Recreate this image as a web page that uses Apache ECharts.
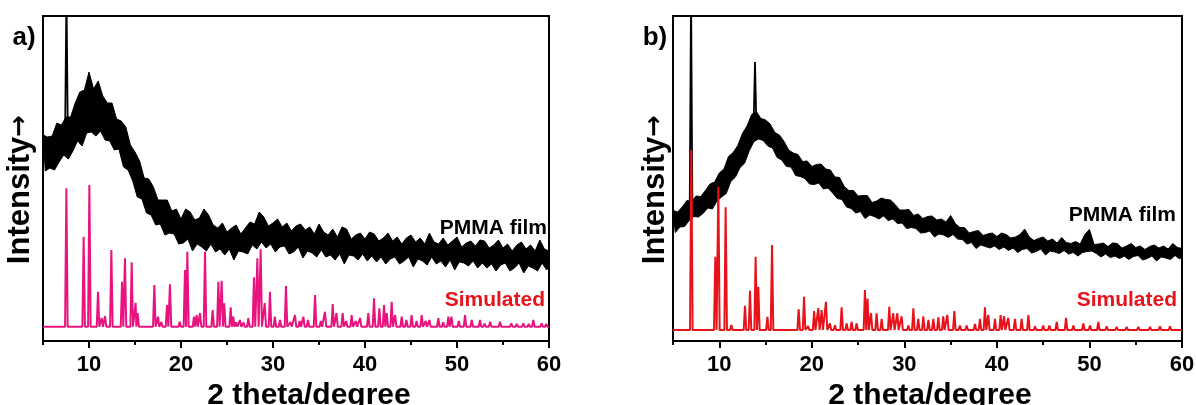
<!DOCTYPE html>
<html>
<head>
<meta charset="utf-8">
<script src="https://cdn.jsdelivr.net/npm/echarts@6/dist/echarts.min.js"></script>
<style>
  html, body { margin: 0; padding: 0; background: #fff; }
  #chart { width: 1196px; height: 405px; }
</style>
</head>
<body>
<div id="chart"></div>
<script>
// 2-theta axis
const angleMin = 5;
const angleMax = 60;
const majorTicks = [10, 20, 30, 40, 50, 60];
const minorTicks = [5, 15, 25, 35, 45, 55];

// PMMA film scans: upper / lower edge of the noisy trace, sampled every 0.5 degree from 5 to 60
const filmStep = 0.5;
const filmTopA = [
  82.4, 81.6, 82.0, 87.2, 86.4, 89.6, 89.6, 95.2, 99.6, 100.4,
  107.6, 100.8, 104.0, 98.0, 95.2, 95.2, 88.8, 88.0, 85.6, 78.4,
  75.6, 72.0, 65.2, 64.8, 61.6, 56.4, 56.4, 56.4, 52.0, 52.8,
  48.8, 52.8, 51.6, 48.4, 49.2, 52.8, 50.4, 46.4, 45.2, 47.2,
  43.6, 45.2, 46.4, 42.8, 45.2, 47.6, 46.8, 51.6, 49.6, 46.0,
  47.2, 48.8, 45.6, 47.2, 44.0, 46.0, 46.8, 44.4, 45.6, 42.8,
  46.8, 43.6, 42.4, 44.8, 41.6, 45.6, 44.8, 40.8, 42.4, 43.2,
  40.8, 43.6, 42.8, 40.0, 41.2, 43.2, 40.0, 41.6, 38.8, 41.2,
  42.4, 39.6, 41.2, 38.8, 43.2, 39.6, 38.8, 41.2, 38.4, 40.0,
  41.6, 37.6, 39.2, 40.0, 38.0, 40.4, 40.0, 37.2, 38.4, 40.4,
  37.2, 38.8, 36.0, 38.4, 39.6, 36.8, 38.4, 36.0, 40.4, 36.8,
  36.0
];
const filmLowA = [
  68.0, 69.2, 68.4, 71.6, 74.4, 72.8, 76.0, 80.0, 78.0, 83.2,
  83.6, 82.0, 84.0, 80.4, 80.0, 76.4, 76.8, 69.6, 68.4, 64.0,
  57.6, 56.8, 51.2, 50.4, 46.4, 46.8, 42.4, 43.2, 42.8, 38.8,
  39.2, 40.8, 36.0, 38.8, 37.6, 36.0, 38.8, 35.6, 36.8, 34.4,
  36.8, 32.4, 36.0, 35.6, 34.8, 38.4, 36.8, 39.6, 37.2, 38.8,
  35.6, 37.6, 38.0, 34.8, 35.6, 37.6, 33.2, 36.0, 35.2, 33.6,
  36.4, 33.6, 34.4, 32.4, 34.8, 30.8, 34.4, 34.0, 32.4, 34.8,
  32.0, 34.0, 31.6, 33.6, 30.8, 32.8, 33.6, 30.8, 32.0, 33.6,
  29.6, 32.8, 32.0, 30.4, 33.6, 30.8, 32.0, 29.6, 32.4, 28.4,
  31.6, 31.2, 30.0, 32.0, 29.2, 31.2, 29.2, 30.8, 28.0, 30.4,
  31.2, 28.0, 29.2, 31.2, 27.2, 30.0, 29.2, 28.0, 31.2, 28.4,
  29.6
];
// sharp reflections standing out of the film scan: [2 theta, height, foot level]
const filmSpikesA = [[7.55, 140, 86.0]];

const filmTopB = [
  52.2, 51.6, 53.6, 56.2, 55.8, 58.0, 57.8, 60.2, 62.8, 63.6,
  67.2, 68.8, 73.8, 75.4, 78.2, 83.0, 86.0, 90.6, 91.8, 89.0,
  88.4, 86.8, 83.4, 82.4, 79.8, 76.4, 75.2, 74.6, 71.8, 72.0,
  69.8, 70.6, 70.8, 68.8, 68.4, 65.6, 65.4, 61.8, 60.2, 60.2,
  58.0, 58.2, 58.2, 55.4, 56.0, 57.2, 56.6, 56.4, 54.6, 52.4,
  52.4, 52.6, 50.2, 50.8, 49.0, 49.8, 50.0, 48.4, 48.8, 47.6,
  50.2, 47.0, 45.4, 45.4, 43.2, 43.8, 44.2, 42.2, 42.8, 43.2,
  41.8, 43.2, 42.6, 41.2, 41.6, 42.6, 44.8, 41.6, 40.2, 41.0,
  41.6, 40.0, 40.8, 39.2, 41.4, 39.4, 39.0, 39.8, 38.8, 42.6,
  44.6, 38.6, 38.8, 39.2, 37.8, 39.2, 39.0, 37.2, 38.0, 39.0,
  37.4, 38.0, 36.6, 37.8, 38.4, 37.2, 38.0, 36.8, 39.0, 37.4,
  37.0
];
const filmLowB = [
  43.4, 45.6, 45.8, 48.2, 49.8, 49.6, 51.0, 53.2, 52.8, 56.0,
  57.6, 59.0, 63.8, 65.6, 69.4, 71.2, 76.2, 79.8, 80.8, 80.2,
  78.0, 77.2, 73.4, 72.4, 69.8, 69.6, 66.2, 65.8, 65.0, 62.8,
  62.6, 63.2, 60.8, 61.2, 59.2, 57.0, 56.6, 53.6, 53.0, 51.2,
  51.8, 49.0, 50.4, 49.8, 48.8, 50.0, 48.2, 48.8, 47.0, 47.2,
  45.0, 45.4, 45.0, 43.2, 43.4, 44.0, 41.6, 42.8, 42.4, 41.4,
  42.6, 40.8, 40.6, 38.8, 39.4, 37.0, 38.4, 37.8, 37.2, 38.0,
  36.6, 37.6, 36.2, 37.2, 35.4, 36.6, 37.0, 35.2, 35.8, 36.8,
  34.4, 36.0, 35.6, 35.0, 36.2, 34.8, 35.4, 34.0, 35.4, 35.8,
  36.0, 35.0, 33.6, 34.8, 33.4, 34.0, 33.0, 34.0, 32.6, 33.8,
  34.2, 32.4, 33.0, 34.0, 32.0, 33.6, 33.2, 32.6, 34.2, 32.8,
  33.8
];
const filmSpikesB = [[6.95, 140, 55.0], [13.86, 111.6, 88.0]];

// Simulated patterns: reflection positions (2 theta) and peak heights, plus background level
const simBaseA = 5.7;
const simPeaksA = [
  [7.54, 61.1], [9.42, 41.7], [10.04, 62.4], [10.98, 19.7], [11.38, 9.2], [11.74, 10.0],
  [12.43, 36.4], [13.59, 23.7], [13.91, 33.1], [14.64, 31.5], [15.07, 15.3], [15.29, 11.2],
  [17.1, 22.4], [17.5, 9.7], [17.86, 7.6], [18.48, 14.4], [18.8, 22.7], [19.86, 7.7],
  [20.43, 28.4], [20.69, 35.7], [21.41, 9.7], [21.7, 10.4], [22.07, 11.2], [22.61, 35.7],
  [23.44, 12.4], [24.06, 23.7], [24.42, 24.1], [24.7, 15.1], [25.4, 13.5], [25.68, 9.7],
  [26.0, 7.5], [26.41, 8.4], [26.8, 7.4], [27.32, 9.1], [27.93, 25.5], [28.3, 33.1],
  [28.66, 36.7], [29.1, 15.2], [29.67, 19.7], [30.2, 9.7], [30.76, 8.4], [31.41, 22.0],
  [31.9, 7.6], [32.39, 10.4], [32.9, 8.0], [33.3, 9.7], [33.8, 8.4], [34.57, 18.4],
  [35.2, 8.0], [35.65, 11.7], [36.49, 14.8], [36.9, 11.2], [37.57, 11.2], [37.95, 8.0],
  [38.55, 10.4], [39.0, 8.0], [39.46, 9.2], [40.36, 11.2], [40.98, 17.1], [41.56, 13.1],
  [42.07, 14.4], [42.36, 11.2], [42.9, 15.7], [43.27, 10.4], [43.99, 9.7], [44.5, 8.4],
  [45.07, 10.4], [45.6, 8.0], [46.16, 10.4], [46.6, 8.0], [47.0, 8.4], [47.97, 9.1],
  [48.5, 7.5], [49.06, 9.7], [49.4, 9.7], [50.2, 8.0], [50.87, 10.4], [51.6, 8.4],
  [52.5, 8.4], [53.0, 7.0], [53.6, 7.7], [54.67, 7.7], [55.9, 7.1], [56.5, 6.8],
  [57.2, 7.1], [57.8, 6.8], [58.3, 8.4], [59.2, 7.1], [59.7, 6.8]
];
const simBaseB = 4.4;
const simPeaksB = [
  [6.98, 76.4], [9.57, 33.7], [9.9, 61.7], [10.69, 53.5], [11.3, 6.4], [12.78, 14.1],
  [13.32, 20.1], [13.93, 33.7], [14.22, 21.7], [15.2, 9.7], [15.7, 38.4], [17.97, 5.2],
  [18.58, 12.7], [19.16, 17.7], [19.6, 6.0], [20.25, 12.0], [20.7, 13.1], [21.06, 12.4],
  [21.53, 15.7], [21.96, 7.0], [22.5, 6.3], [23.22, 13.5], [23.76, 7.0], [24.3, 7.6],
  [24.84, 7.0], [25.74, 20.4], [26.02, 17.0], [26.4, 11.1], [27.0, 11.1], [27.55, 8.9],
  [28.37, 13.7], [28.8, 11.1], [29.24, 11.1], [29.7, 9.9], [30.43, 6.2], [30.97, 13.1],
  [31.5, 8.9], [32.05, 9.9], [32.6, 8.4], [33.13, 8.9], [33.67, 9.5], [34.2, 9.9],
  [34.64, 10.4], [35.4, 12.0], [36.0, 6.2], [36.73, 6.2], [37.63, 6.8], [38.17, 8.9],
  [38.71, 13.5], [39.07, 10.4], [39.79, 8.9], [40.4, 10.4], [40.77, 9.9], [41.23, 9.3],
  [41.95, 8.9], [42.67, 8.9], [43.4, 10.4], [44.12, 5.9], [45.0, 6.2], [45.67, 6.2],
  [46.46, 7.6], [47.47, 9.3], [48.26, 6.2], [49.34, 7.0], [50.06, 6.2], [50.96, 7.6],
  [51.86, 5.9], [52.94, 5.7], [54.02, 5.7], [55.28, 5.7], [56.54, 5.7], [57.62, 5.9],
  [58.7, 5.9]
];

const seriesNames = ['PMMA film', 'Simulated'];
const panelTags = ['a)', 'b)'];
const xTitle = '2 theta/degree';
const yTitleWord = 'Intensity';
const yTitleArrow = '\u2192';

const FONT = '"Liberation Sans", Arial, sans-serif';
const BLACK = '#000000';
const PINK = '#E8137F';
const RED = '#E8121A';

// narrow peaks: each reflection rises from its own foot level
function spikeTrace(spikes, halfWidth) {
  const pts = [];
  spikes.forEach(([x, h, foot]) => {
    pts.push([x - halfWidth, foot], [x, h], [x + halfWidth, foot], null);
  });
  return pts;
}

// stick pattern: each reflection drawn as a narrow peak on the background level
const peakFoot = 0.14;
function simTrace(peaks, base) {
  const pts = [[angleMin, base], [angleMax, base]];
  peaks.forEach(([x, h]) => {
    pts.push([x - peakFoot, base], [x, h], [x + peakFoot, base]);
  });
  return pts.sort((p, q) => p[0] - q[0]);
}

const grids = [
  { left: 43, top: 16, width: 506, height: 325 },
  { left: 673, top: 16, width: 509, height: 325 }
];

function mainX(gi, titleShift) {
  return {
    type: 'value', gridIndex: gi, min: angleMin, max: angleMax,
    position: 'bottom',
    axisLine: { show: true, onZero: false, lineStyle: { color: BLACK, width: 2 } },
    axisTick: { show: true, customValues: majorTicks, length: 7, lineStyle: { color: BLACK, width: 2 } },
    axisLabel: { show: true, customValues: majorTicks, margin: 13, color: BLACK,
      fontFamily: FONT, fontWeight: 'bold', fontSize: 22 },
    splitLine: { show: false },
    name: xTitle, nameLocation: 'middle', nameGap: 40,
    nameTextStyle: { color: BLACK, fontFamily: FONT, fontWeight: 'bold', fontSize: 30,
      padding: [0, 0, 0, titleShift] }
  };
}
function minorX(gi) {
  return {
    type: 'value', gridIndex: gi, min: angleMin, max: angleMax, position: 'bottom',
    axisLine: { show: false },
    axisTick: { show: true, customValues: minorTicks, length: 4, lineStyle: { color: BLACK, width: 2 } },
    axisLabel: { show: false },
    splitLine: { show: false }
  };
}
function yAx(gi, gap) {
  return {
    type: 'value', gridIndex: gi, min: 0, max: 130,
    axisLine: { show: false }, axisTick: { show: false }, axisLabel: { show: false },
    splitLine: { show: false },
    name: yTitleWord + '{arr|' + yTitleArrow + '}', nameLocation: 'middle', nameGap: gap,
    nameTextStyle: { color: BLACK, fontFamily: FONT, fontWeight: 'bold', fontSize: 31,
      padding: [0, 22, 0, 0],
      rich: { arr: { fontFamily: '"DejaVu Sans"', fontWeight: 'bold', fontSize: 26, color: BLACK } } }
  };
}

function lineSeries(name, xi, yi, data, color, width, z) {
  return {
    name, type: 'line', xAxisIndex: xi, yAxisIndex: yi, data,
    showSymbol: false, symbol: 'none', clip: true, z, connectNulls: false,
    lineStyle: { color, width, join: 'bevel' },
    emphasis: { disabled: true }
  };
}

// noisy film scan: filled body between the upper and lower edges of the trace
function bandSeries(name, xi, yi, top, low) {
  return {
    name, type: 'custom', xAxisIndex: xi, yAxisIndex: yi, data: [[angleMin, 0]],
    clip: true, z: 2, silent: true,
    renderItem: (params, api) => {
      const pts = [];
      top.forEach((t, i) => pts.push(api.coord([angleMin + i * filmStep, t])));
      for (let i = low.length - 1; i >= 0; i--) {
        const x = Math.min(angleMin + i * filmStep + filmStep / 2, angleMax);
        pts.push(api.coord([x, low[i]]));
      }
      return {
        type: 'polygon', shape: { points: pts },
        style: { fill: BLACK, stroke: BLACK, lineWidth: 1, lineJoin: 'bevel' }
      };
    }
  };
}

function label(text, x, y, color, size, align) {
  return {
    type: 'text', x, y, silent: true,
    style: { text, fill: color, font: `bold ${size}px ${FONT}`, align, verticalAlign: 'middle' }
  };
}

const chart = echarts.init(document.getElementById('chart'), null, { renderer: 'canvas' });
chart.setOption({
  animation: false,
  backgroundColor: '#ffffff',
  grid: grids.map(g => Object.assign({ show: true, borderColor: BLACK, borderWidth: 2,
    backgroundColor: 'transparent', containLabel: false, outerBoundsMode: 'none' }, g)),
  xAxis: [mainX(0, 26), mainX(1, 5), minorX(0), minorX(1)],
  yAxis: [yAx(0, 7), yAx(1, 2)],
  series: [
    bandSeries(seriesNames[0], 0, 0, filmTopA, filmLowA),
    lineSeries(seriesNames[0], 0, 0, spikeTrace(filmSpikesA, 0.14), BLACK, 1.8, 2),
    lineSeries(seriesNames[1], 0, 0, simTrace(simPeaksA, simBaseA), PINK, 2, 3),
    bandSeries(seriesNames[0], 1, 1, filmTopB, filmLowB),
    lineSeries(seriesNames[0], 1, 1, spikeTrace(filmSpikesB, 0.14), BLACK, 1.8, 2),
    lineSeries(seriesNames[1], 1, 1, simTrace(simPeaksB, simBaseB), RED, 2, 3)
  ],
  graphic: [
    label(panelTags[0], 24, 38, BLACK, 26, 'center'),
    label(panelTags[1], 655, 38, BLACK, 26, 'center'),
    label(seriesNames[0], 547, 228, BLACK, 21, 'right'),
    label(seriesNames[1], 545, 300.5, RED, 21, 'right'),
    label(seriesNames[0], 1176, 215.5, BLACK, 21, 'right'),
    label(seriesNames[1], 1177, 300.5, RED, 21, 'right')
  ]
});
</script>
</body>
</html>
